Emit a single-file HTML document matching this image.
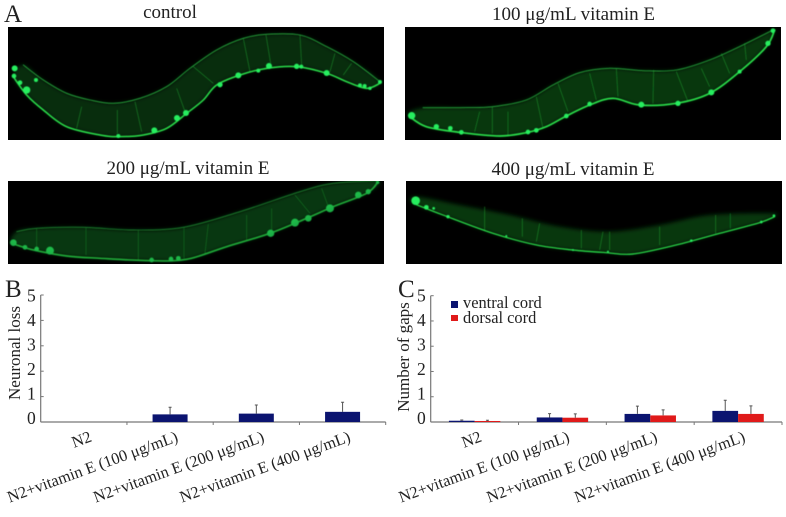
<!DOCTYPE html>
<html>
<head>
<meta charset="utf-8">
<style>
html,body{margin:0;padding:0;background:#fff}
svg{display:block}
text{font-family:"Liberation Serif","Noto Serif CJK SC",serif;fill:#222}
.body{stroke:none;opacity:.62}
.cross{fill:none;stroke:#1c9a30;stroke-width:2;opacity:.75}
.top{fill:none;stroke:#27a83e;stroke-width:2.6;stroke-linecap:round;stroke-linejoin:round}
.bot{fill:none;stroke:#2be04c;stroke-width:5;stroke-linecap:round;stroke-linejoin:round}
.blob{fill:#27ee5e}
</style>
</head>
<body>
<svg id="fig" width="786" height="517" viewBox="0 0 786 517" xmlns="http://www.w3.org/2000/svg">
<defs>
<filter id="soft" x="-5%" y="-5%" width="110%" height="110%"><feGaussianBlur stdDeviation="1.6"/></filter>
<filter id="bodyBlur" x="-5%" y="-5%" width="110%" height="110%"><feGaussianBlur stdDeviation="6"/></filter>
<clipPath id="clipControl"><rect x="24" y="81" width="1128" height="339"/></clipPath>
<clipPath id="clip100"><rect x="36" y="81" width="1128" height="339"/></clipPath>
<clipPath id="clip200"><rect x="24" y="93" width="1128" height="249"/></clipPath>
<clipPath id="clip400"><rect x="39" y="93" width="1128" height="249"/></clipPath>
</defs>

<text x="4" y="22" font-size="25">A</text>
<text x="170" y="18" font-size="19" text-anchor="middle">control</text>
<text x="573.5" y="20" font-size="19" text-anchor="middle">100 μg/mL vitamin E</text>
<text x="188" y="174" font-size="19" text-anchor="middle">200 μg/mL vitamin E</text>
<text x="573" y="175" font-size="19" text-anchor="middle">400 μg/mL vitamin E</text>

<!-- control worm -->
<rect x="8" y="27" width="376" height="113" fill="#000"/>
<g transform="scale(.3333)" clip-path="url(#clipControl)">
<path class="body" fill="#0a4a14" filter="url(#bodyBlur)" d="M70 195L130 240 200 280 270 300 340 310 420 295 500 260 570 205 650 150 730 115 800 103 900 105 980 140 1060 185 1140 245 1100 265 1040 245 980 220 890 200 800 205 720 225 650 255 610 300 560 340 500 385 430 405 360 410 300 405 200 380 130 330 80 285 40 230Z"/>
<g filter="url(#soft)">
<path class="cross" d="M230 385L245 320M352 400V330M425 395L405 305M555 335L530 265M640 250L580 200M750 215L730 115M812 190L798 105M905 195L900 105M990 215L1005 160M1030 225L1055 190"/>
<path class="top" d="M70 195L130 240 200 280 270 300 340 310 420 295 500 260 570 205 650 150 730 115 800 103 900 105 980 140 1060 185 1140 245"/>
<path class="bot" style="stroke-width:4.5" d="M40 230L80 285 130 330 200 380 300 405 360 410 430 405 500 385 560 340 610 300 650 255 720 225 800 205 890 200 980 220 1040 245 1100 265 1140 250"/>
<g class="blob"><circle cx="44" cy="205" r="9"/><circle cx="42" cy="228" r="7"/><circle cx="60" cy="248" r="7"/><circle cx="80" cy="270" r="11"/><circle cx="108" cy="240" r="6"/><circle cx="355" cy="408" r="6"/><circle cx="463" cy="391" r="9"/><circle cx="531" cy="354" r="9"/><circle cx="558" cy="339" r="9"/><circle cx="660" cy="254" r="8"/><circle cx="715" cy="226" r="9"/><circle cx="775" cy="212" r="6"/><circle cx="807" cy="198" r="9"/><circle cx="890" cy="199" r="8"/><circle cx="904" cy="200" r="6"/><circle cx="980" cy="219" r="9"/><circle cx="1080" cy="256" r="6"/><circle cx="1094" cy="258" r="6"/><circle cx="1110" cy="265" r="5"/><circle cx="1140" cy="246" r="6"/></g>
</g></g>

<!-- 100 worm -->
<rect x="405" y="27" width="376" height="113" fill="#000"/>
<g transform="translate(393,0) scale(.3333)" clip-path="url(#clip100)">
<path class="body" fill="#0a5a16" filter="url(#bodyBlur)" d="M50 335L100 323 200 323 300 320 400 300 480 255 560 218 650 205 750 212 850 210 950 180 1050 135 1140 90 1145 90 1120 140 1040 215 950 280 850 310 740 315 660 295 590 315 520 348 460 380 400 398 320 408 200 397 100 380 50 350Z"/>
<g filter="url(#soft)">
<path class="cross" d="M245 395L260 335M298 320V400M345 405V335M450 385L430 290M525 335L495 250M610 300L590 220M675 290L670 205M780 310L782 210M885 305L850 215M950 260L925 205M1010 220L985 160M1060 180L1055 130"/>
<path class="top" d="M90 323L200 323 300 320 400 300 480 255 560 218 650 205 750 212 850 210 950 180 1050 135 1140 90"/>
<path class="bot" d="M50 350L100 380 200 397 320 408 400 398 460 380 520 348 590 315 660 295 740 315 850 310 950 280 1040 215 1120 140 1145 90"/>
<g class="blob"><circle cx="56" cy="347" r="11"/><circle cx="130" cy="380" r="8"/><circle cx="172" cy="385" r="7"/><circle cx="205" cy="397" r="7"/><circle cx="405" cy="396" r="7"/><circle cx="430" cy="391" r="7"/><circle cx="520" cy="348" r="7"/><circle cx="590" cy="312" r="7"/><circle cx="745" cy="314" r="9"/><circle cx="855" cy="310" r="8"/><circle cx="955" cy="277" r="9"/><circle cx="1040" cy="215" r="6"/><circle cx="1125" cy="130" r="8"/><circle cx="1140" cy="92" r="7"/></g>
</g></g>

<!-- 200 worm -->
<rect x="8" y="181" width="376" height="83" fill="#000"/>
<g transform="translate(0,150) scale(.3333)" clip-path="url(#clip200)">
<path class="body" fill="#0d5a1a" filter="url(#bodyBlur)" d="M50 245L110 235 250 232 400 240 550 232 720 185 900 125 1000 100 1135 92 1100 130 1000 170 920 205 810 250 680 290 560 328 450 332 300 325 200 318 100 300 35 280Z"/>
<g filter="url(#soft)" opacity=".72">
<path class="cross" d="M110 235V290M258 232V315M415 240V330M552 232V325M625 222L615 310M740 195V270M815 175V250M885 135L930 190M965 115L985 170"/>
<path class="top" d="M50 245L110 235 250 232 400 240 550 232 720 185 900 125 1000 100 1135 92"/>
<path class="bot" d="M35 280L100 300 200 318 300 325 450 332 560 328 680 290 810 250 920 205 1000 170 1100 130 1135 95"/>
<g class="blob"><circle cx="40" cy="278" r="10"/><circle cx="75" cy="292" r="7"/><circle cx="110" cy="297" r="7"/><circle cx="150" cy="302" r="12"/><circle cx="455" cy="330" r="7"/><circle cx="513" cy="327" r="7"/><circle cx="535" cy="325" r="7"/><circle cx="812" cy="250" r="11"/><circle cx="885" cy="218" r="12"/><circle cx="925" cy="205" r="10"/><circle cx="990" cy="175" r="12"/><circle cx="1075" cy="135" r="10"/><circle cx="1105" cy="125" r="8"/><circle cx="1133" cy="97" r="5"/></g>
</g></g>

<!-- 400 worm -->
<rect x="406" y="181" width="376" height="83" fill="#000"/>
<g transform="translate(393,150) scale(.3333)" clip-path="url(#clip400)">
<path class="body" fill="#0c5a18" filter="url(#bodyBlur)" d="M70 140L200 165 350 195 500 230 650 245 800 225 950 195 1140 190 1145 200 1100 218 980 250 850 285 720 312 640 308 540 300 430 285 300 250 150 195 60 160Z"/>
<g filter="url(#soft)">
<path class="cross" d="M275 170V240M388 205V260M440 220L430 275M565 240V295M630 245L620 300M650 245V300M800 230V285M968 195V250M1012 190V235"/>
<path class="bot" style="stroke-width:3.5" d="M60 160L150 195 300 250 430 285 540 300 640 308 720 312 850 285 980 250 1100 218 1145 200"/>
<g class="blob"><circle cx="68" cy="152" r="13"/><circle cx="100" cy="172" r="7"/><circle cx="122" cy="175" r="4"/><circle cx="165" cy="200" r="5"/><circle cx="340" cy="258" r="3"/><circle cx="540" cy="300" r="3"/><circle cx="645" cy="305" r="3"/><circle cx="895" cy="272" r="4"/><circle cx="1105" cy="216" r="4"/><circle cx="1143" cy="197" r="4"/></g>
</g></g>

<text x="5" y="297" font-size="25">B</text>
<text x="398" y="297" font-size="25">C</text>

<rect x="451" y="301" width="7" height="7" fill="#0b1470"/>
<rect x="451" y="315" width="7" height="6" fill="#e01a1a"/>
<text x="463" y="308" font-size="16.4">ventral cord</text>
<text x="463" y="323" font-size="16.4">dorsal cord</text>

<g id="chartB"></g>
<g id="chartC"></g>
</svg>

<script>
const categories = ["N2", "N2+vitamin E (100 μg/mL)", "N2+vitamin E (200 μg/mL)", "N2+vitamin E (400 μg/mL)"];
const yTicks = [0, 1, 2, 3, 4, 5];
const lossValues = [0, 0.3, 0.33, 0.4];
const lossErrors = [0, 0.28, 0.34, 0.38];
const ventralValues = [0.05, 0.18, 0.32, 0.44];
const ventralErrors = [0.03, 0.15, 0.31, 0.42];
const dorsalValues = [0.04, 0.17, 0.26, 0.32];
const dorsalErrors = [0.03, 0.15, 0.22, 0.32];

const NS = "http://www.w3.org/2000/svg";
function make(parent, tag, attrs, text) {
  const el = document.createElementNS(NS, tag);
  for (const k in attrs) el.setAttribute(k, attrs[k]);
  if (text !== undefined) el.textContent = text;
  parent.appendChild(el);
  return el;
}
function smoothPath(el) {
  const d = el.getAttribute("d");
  const closed = /Z\s*$/.test(d);
  const n = d.match(/-?[\d.]+/g).map(Number);
  const p = [];
  for (let i = 0; i + 1 < n.length; i += 2) p.push([n[i], n[i + 1]]);
  const at = i => closed ? p[(i + p.length) % p.length] : p[Math.max(0, Math.min(p.length - 1, i))];
  let out = "M" + p[0][0] + " " + p[0][1];
  const segs = closed ? p.length : p.length - 1;
  for (let i = 0; i < segs; i++) {
    const a = at(i - 1), b = at(i), c = at(i + 1), e = at(i + 2);
    out += "C" + (b[0] + (c[0] - a[0]) / 6) + " " + (b[1] + (c[1] - a[1]) / 6) + " " +
      (c[0] - (e[0] - b[0]) / 6) + " " + (c[1] - (e[1] - b[1]) / 6) + " " + c[0] + " " + c[1];
  }
  el.setAttribute("d", out + (closed ? "Z" : ""));
}
document.querySelectorAll(".body,.top,.bot").forEach(smoothPath);

function drawChart(root, cfg) {
  const xBand = i => cfg.left + (cfg.right - cfg.left) * i / categories.length;
  const y = v => cfg.y0 - (cfg.y0 - cfg.y5) * v / 5;
  const axisY = make(root, "line", {x1: cfg.left, x2: cfg.left, y1: cfg.y5, y2: cfg.y0, stroke: "#777", "stroke-width": 1.2});
  
  
  const axisX = make(root, "line", {x1: cfg.left, x2: cfg.right, y1: cfg.y0, y2: cfg.y0, stroke: "#777", "stroke-width": 1.2});
  
  
  yTicks.forEach(t => {
    make(root, "line", {x1: cfg.left, x2: cfg.left + 3, y1: y(t), y2: y(t), stroke: "#777"});
    const lab = make(root, "text", {x: cfg.left - 5, y: 424 - t * 24.46, "font-size": 17.5, "text-anchor": "end"}, t);
    
    
  });
  categories.forEach((c, i) => {
    make(root, "line", {x1: xBand(i + 1), x2: xBand(i + 1), y1: cfg.y0, y2: cfg.y0 + 3, stroke: "#777"});
    const ex = xBand(i) + cfg.labelDx, ey = cfg.labelY;
    const lab = make(root, "text", {x: ex, y: ey, "font-size": 16.3, "text-anchor": "end", transform: "rotate(-20 " + ex + " " + ey + ")"}, c);
    
    
  });
  cfg.series.forEach((s, si) => {
    const w = cfg.barW, n = cfg.series.length;
    categories.forEach((c, i) => {
      const cx = xBand(i) + (xBand(1) - xBand(0)) / 2;
      const bx = cx - n * w / 2 + si * w;
      const top = y(s.values[i]);
      const errTop = y(s.values[i] + s.errors[i]);
      const mid = bx + w / 2;
      if (s.values[i] > 0) {
        const bar = make(root, "rect", {x: bx, y: top, width: w, height: cfg.y0 - top, fill: s.color});
        
        
        const err = make(root, "path", {d: "M" + mid + " " + top + "V" + errTop + "M" + (mid - 1.5) + " " + errTop + "H" + (mid + 1.5), stroke: "#555", fill: "none", "stroke-width": 1});
        
        
      }
    });
  });
  const tx = cfg.titleX, ty = cfg.titleY;
  const title = make(root, "text", {x: tx, y: ty, "font-size": 17, "text-anchor": "middle", transform: "rotate(-90 " + tx + " " + ty + ")"}, cfg.title);
  
  
}
drawChart(document.getElementById("chartB"), {
  left: 40.7, right: 385.7, y0: 422, y5: 295, barW: 35, labelDx: 52, labelY: 441,
  title: "Neuronal loss", titleX: 20, titleY: 353,
  series: [{values: lossValues, errors: lossErrors, color: "#0b1470"}]
});
drawChart(document.getElementById("chartC"), {
  left: 430.7, right: 782, y0: 422, y5: 295.7, barW: 25.7, labelDx: 52, labelY: 441,
  title: "Number of gaps", titleX: 409, titleY: 357,
  series: [
    {values: ventralValues, errors: ventralErrors, color: "#0b1470"},
    {values: dorsalValues, errors: dorsalErrors, color: "#e01a1a"}
  ]
});
</script>
</body>
</html>
